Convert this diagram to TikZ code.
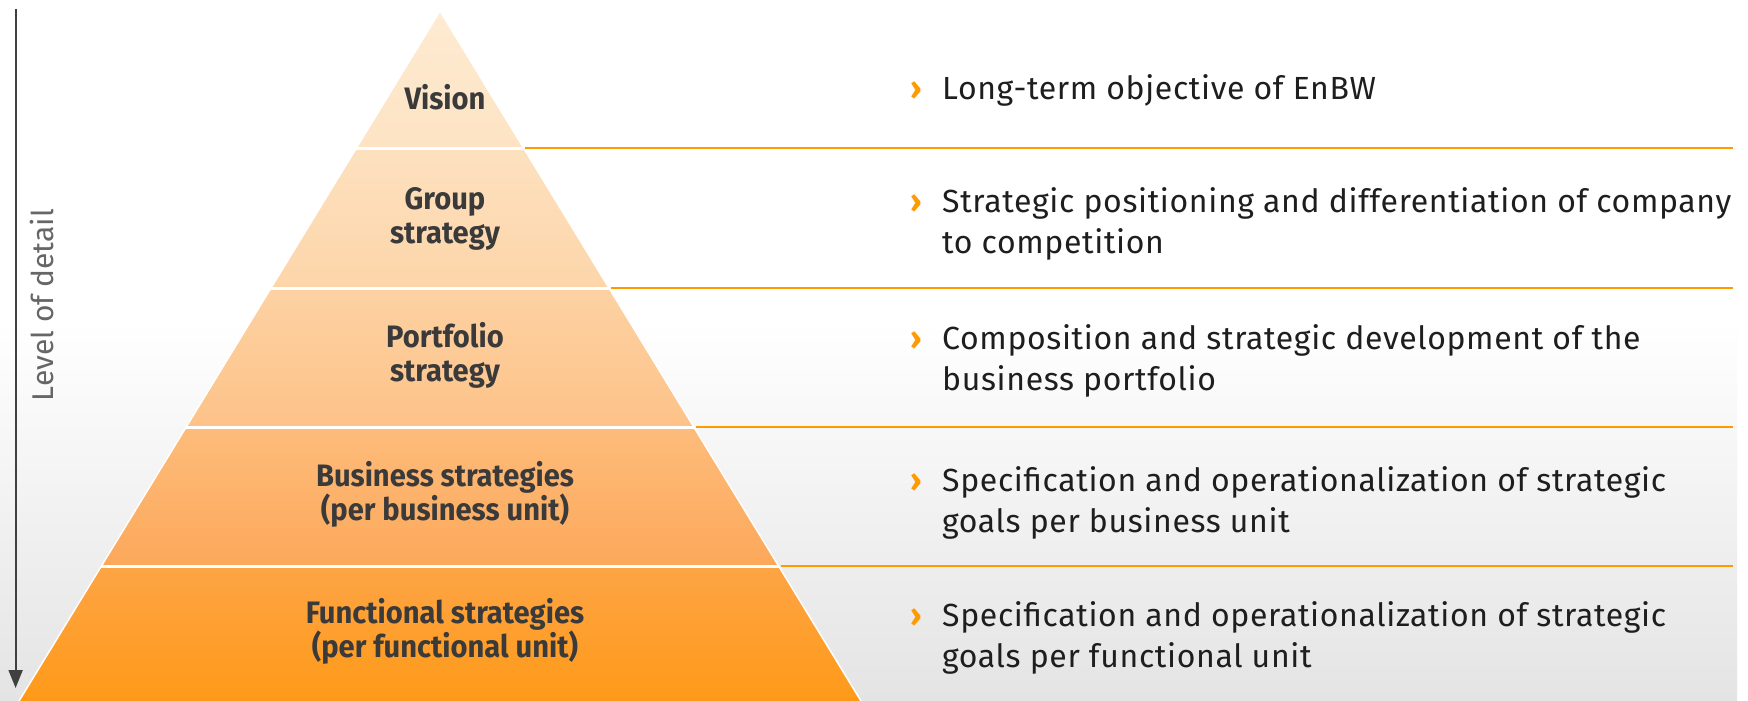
\documentclass[tikz,border=0pt]{standalone}
\usepackage{fontspec}
\setmainfont{Fira Sans}
\newfontfamily\labfont[FakeStretch=0.94]{Fira Sans}
\newfontfamily\txtfont[LetterSpace=2]{Fira Sans}
\usetikzlibrary{arrows.meta}
\definecolor{eorange}{HTML}{FF9A00}
\definecolor{labtext}{HTML}{3A3A3A}
\definecolor{bodytext}{HTML}{1E1E1E}
\definecolor{axisgray}{HTML}{404040}
\definecolor{bgbot}{HTML}{E4E4E4}
\definecolor{bAt}{HTML}{FEEBD2}\definecolor{bAb}{HTML}{FDE3C3}
\definecolor{bBt}{HTML}{FDE1BF}\definecolor{bBb}{HTML}{FDD5A9}
\definecolor{bCt}{HTML}{FDD2A3}\definecolor{bCb}{HTML}{FDC288}
\definecolor{bDt}{HTML}{FDBC7B}\definecolor{bDb}{HTML}{FCA85A}
\definecolor{bEt}{HTML}{FDA445}\definecolor{bEb}{HTML}{FF9A18}
\tikzset{
  lab/.style={align=center,text=labtext,font=\labfont\bfseries\fontsize{31}{34}\selectfont,inner sep=0pt},
  desc/.style={anchor=west,align=left,text=bodytext,font=\txtfont\fontsize{32}{41}\selectfont,inner sep=0pt},
  sep/.style={white,line width=3pt},
  rule/.style={eorange,line width=2.2pt},
}
\newcommand{\bul}{\llap{\textcolor{eorange}{\bfseries ›}\hspace{20pt}}}
\begin{document}
\begin{tikzpicture}[x=1pt,y=-1pt]
\useasboundingbox (0,0) rectangle (1748,701);
\fill[white] (0,0) rectangle (1748,701);
\shade[top color=white,bottom color=bgbot] (0,320) rectangle (1737,701);
% pyramid bands
\shade[top color=bAt,bottom color=bAb] (440,11) -- (523.7,148) -- (356.3,148) -- cycle;
\shade[top color=bBt,bottom color=bBb] (356.3,148) -- (523.7,148) -- (609.2,288) -- (270.8,288) -- cycle;
\shade[top color=bCt,bottom color=bCb] (270.8,288) -- (609.2,288) -- (694.2,427) -- (185.8,427) -- cycle;
\shade[top color=bDt,bottom color=bDb] (185.8,427) -- (694.2,427) -- (779.1,566) -- (100.9,566) -- cycle;
\shade[top color=bEt,bottom color=bEb] (100.9,566) -- (779.1,566) -- (861,701) -- (19,701) -- cycle;
\draw[white,line width=1.5pt] (19,701) -- (440,11) -- (861,701);
\draw[sep] (356.3,148) -- (523.7,148);
\draw[sep] (270.8,288) -- (609.2,288);
\draw[sep] (185.8,427) -- (694.2,427);
\draw[sep] (100.9,566) -- (779.1,566);
% orange rules
\draw[rule] (525,148) -- (1733,148);
\draw[rule] (610.5,288) -- (1733,288);
\draw[rule] (695.5,427) -- (1733,427);
\draw[rule] (780.5,566) -- (1733,566);
% axis
\coordinate (atop) at (15.6,9);
\coordinate (abot) at (15.6,688);
\draw[axisgray,line width=2pt,-{Triangle[length=18pt,width=14pt]}] (atop) -- (abot);
\node[rotate=90,text=axisgray!80,font=\fontsize{30}{34}\selectfont,inner sep=0pt] (lod) at (42,305) {Level of detail};
% pyramid labels
\node[lab] (l1) at (445,97) {Vision};
\node[lab] (l2) at (445,219) {Group\\strategy};
\node[lab] (l3) at (445,355) {Portfolio\\strategy};
\node[lab] (l4) at (445,494) {Business strategies\\(per business unit)};
\node[lab] (l5) at (445,631) {Functional strategies\\(per functional unit)};
% descriptions
\node[desc] (d1) at (942,90) {\bul Long-term objective of EnBW};
\node[desc] (d2) at (942,224) {\bul Strategic positioning and differentiation of company\\to competition};
\node[desc] (d3) at (942,361) {\bul Composition and strategic development of the\\business portfolio};
\node[desc] (d4) at (942,503) {\bul Specification and operationalization of strategic\\goals per business unit};
\node[desc] (d5) at (942,638) {\bul Specification and operationalization of strategic\\goals per functional unit};
\end{tikzpicture}
\end{document}
